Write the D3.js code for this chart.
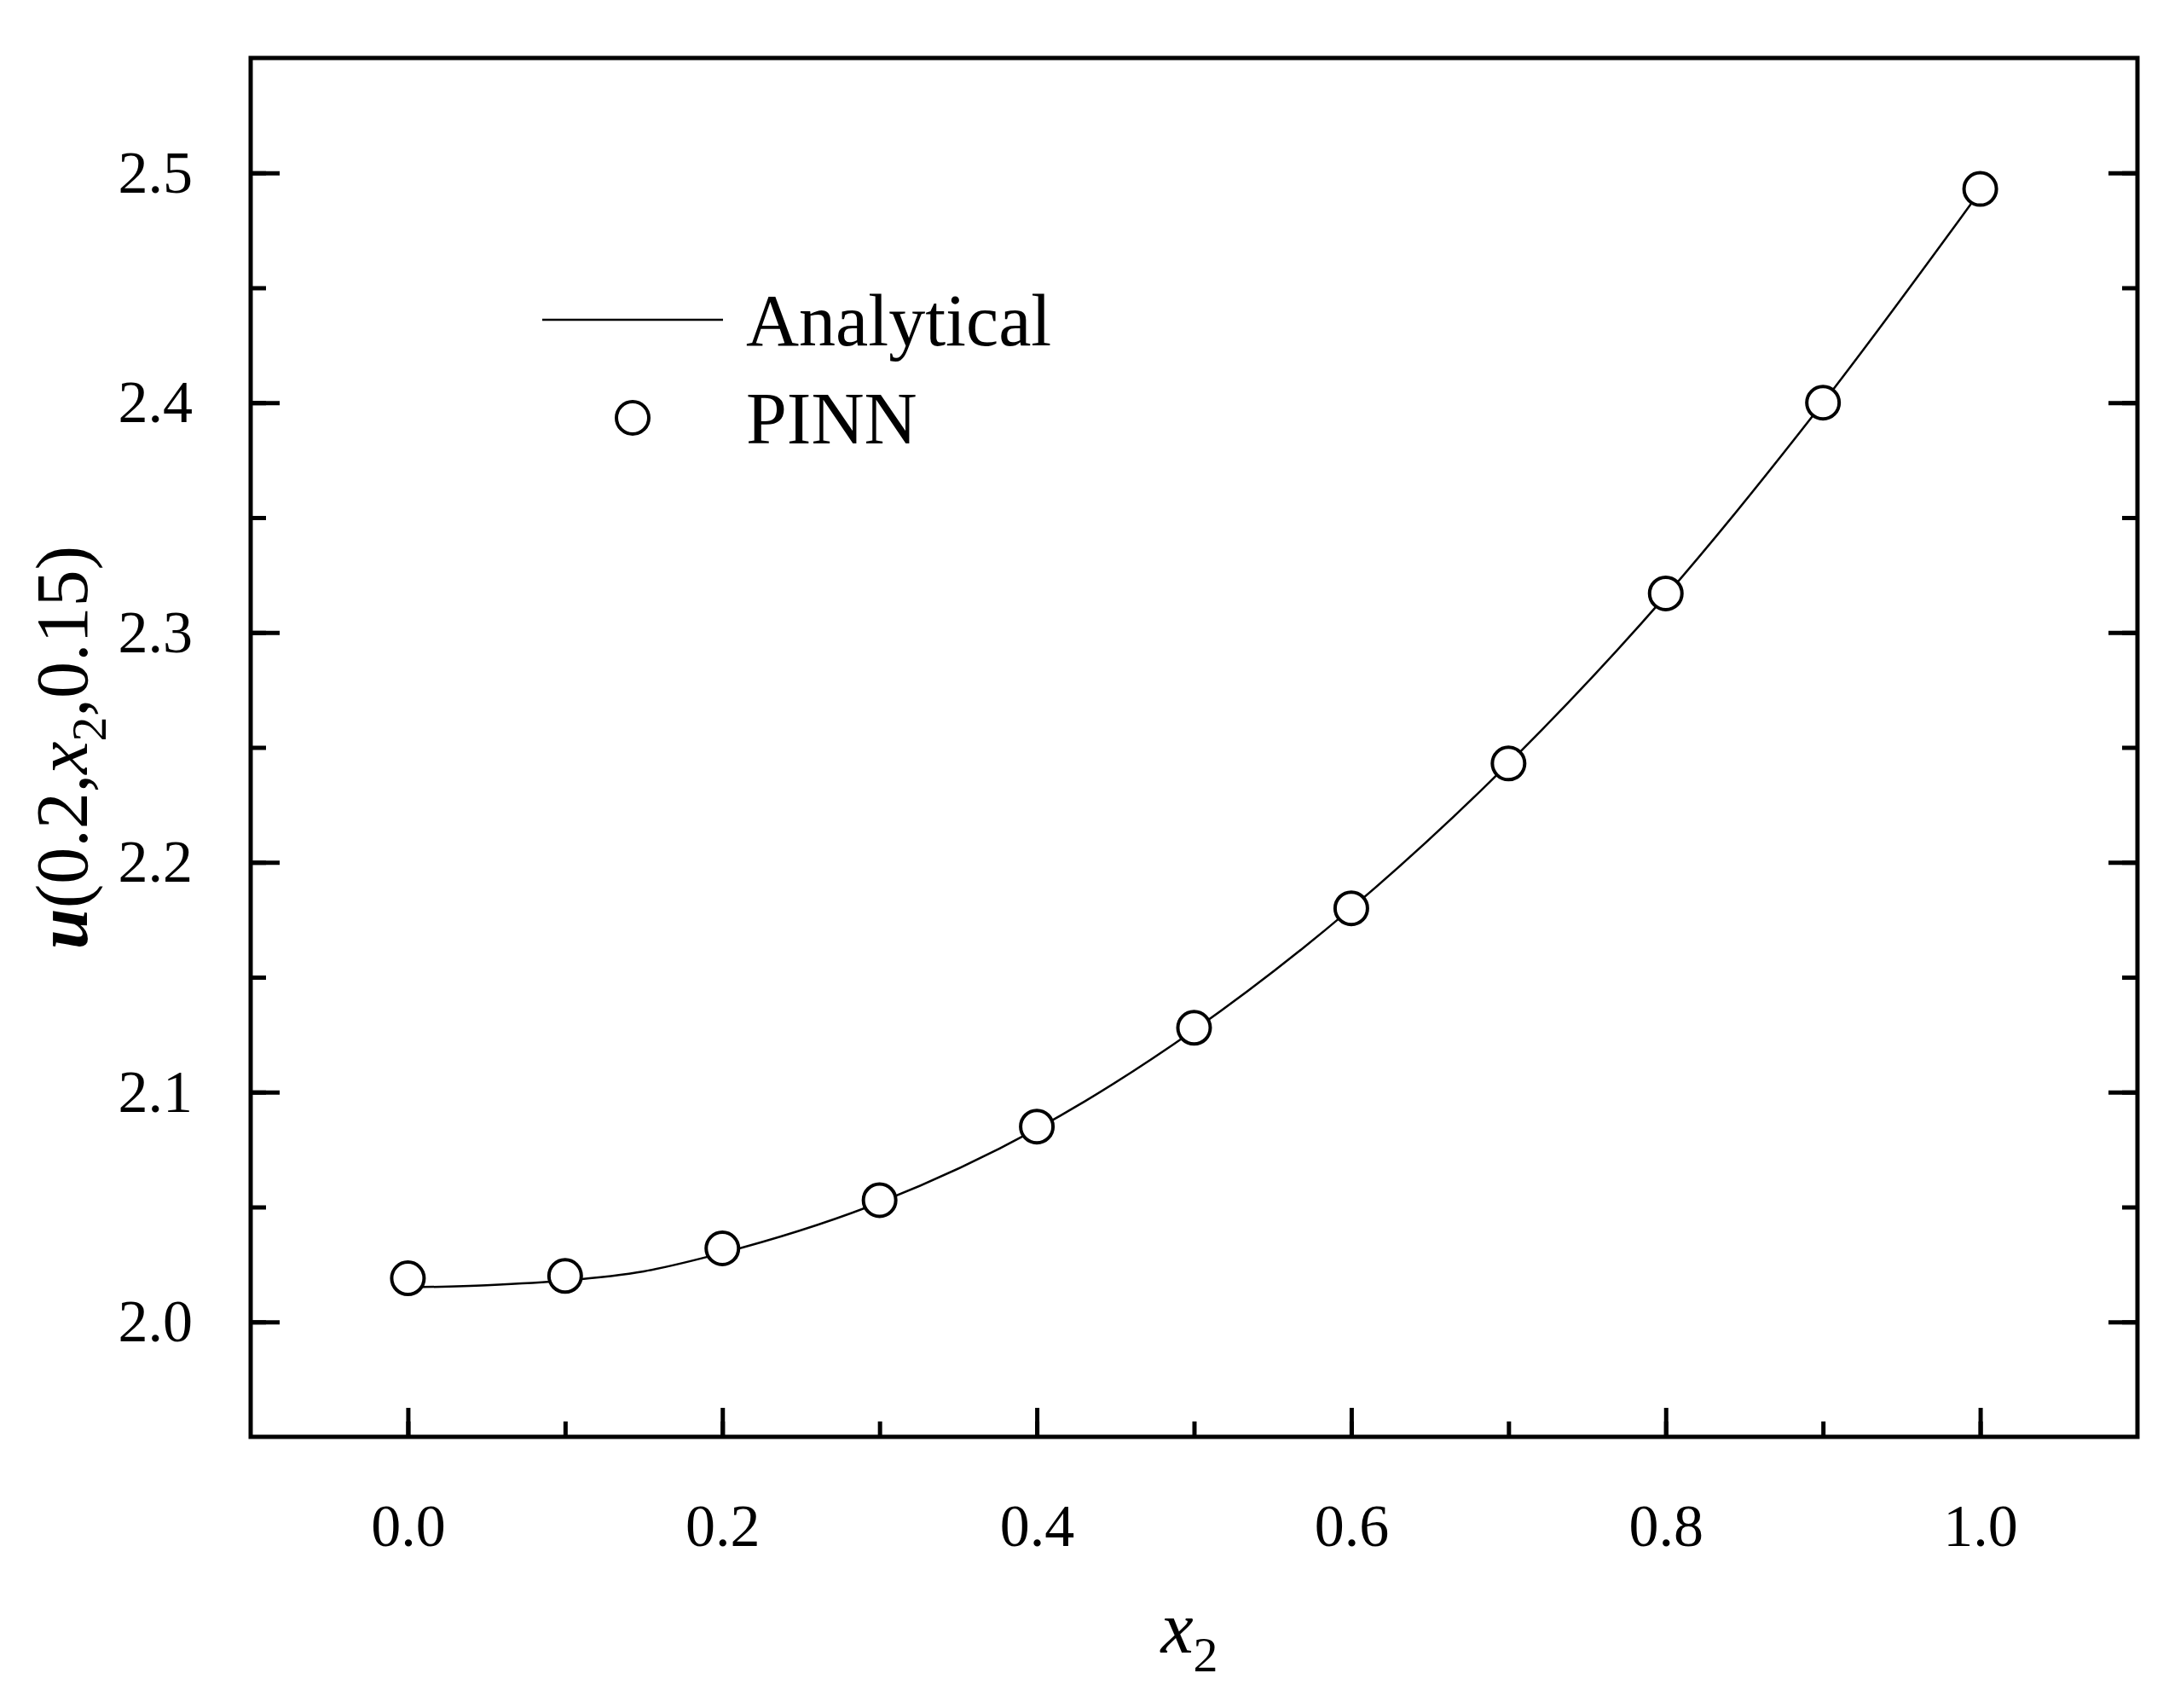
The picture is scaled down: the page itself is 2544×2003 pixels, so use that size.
<script src="https://d3js.org/d3.v7.min.js"></script>
<style>
  body { margin: 0; background: #fff; }
  text { font-family: "Liberation Serif", "Times New Roman", serif; fill: #000; }
</style>
<svg id="chart" width="2544" height="2003"></svg>
<script>
  const pinnX = [0.0, 0.1, 0.2, 0.3, 0.4, 0.5, 0.6, 0.7, 0.8, 0.9, 1.0];
  const pinnY = [2.019, 2.020, 2.032, 2.053, 2.085, 2.128, 2.180, 2.243, 2.317, 2.400, 2.493];
  const exactX = [0.0, 0.05, 0.1, 0.15, 0.2, 0.3, 0.4, 0.5, 0.6, 0.7, 0.8, 0.9, 1.0];
  const exactY = [2.015, 2.016, 2.018, 2.022, 2.030, 2.052, 2.084, 2.127, 2.180, 2.243, 2.316, 2.400, 2.492];
  const xTicks = [0.0, 0.2, 0.4, 0.6, 0.8, 1.0];
  const yTicks = [2.0, 2.1, 2.2, 2.3, 2.4, 2.5];

  const pLeft = 294, pRight = 2507, pTop = 68, pBottom = 1685;
  const svg = d3.select("#chart");

  const x = d3.scaleLinear().domain([-0.1, 1.1]).range([pLeft, pRight]);
  const y = d3.scaleLinear().domain([1.95, 2.55]).range([pBottom, pTop]);

  // minor ticks
  const xMinor = d3.range(-0.1, 1.1001, 0.1).map(v => +v.toFixed(2)).filter(v => v > -0.1 && v < 1.1);
  const yMinor = d3.range(1.95, 2.5501, 0.05).map(v => +v.toFixed(2)).filter(v => v > 1.95 && v < 2.55);

  const fmt = d3.format(".1f");
  const g = svg.append("g");

  g.append("g").attr("transform", `translate(0,${pBottom})`)
    .call(d3.axisBottom(x).tickValues(xMinor).tickSize(-18).tickFormat(""));
  g.append("g").attr("transform", `translate(0,${pBottom})`)
    .call(d3.axisBottom(x).tickValues(xTicks).tickSize(-34).tickPadding(78).tickFormat(fmt));
  g.append("g").attr("transform", `translate(${pLeft},0)`)
    .call(d3.axisLeft(y).tickValues(yMinor).tickSize(-18).tickFormat(""));
  g.append("g").attr("transform", `translate(${pLeft},0)`)
    .call(d3.axisLeft(y).tickValues(yTicks).tickSize(-34).tickPadding(68).tickFormat(fmt));
  g.append("g").attr("transform", `translate(${pRight},0)`)
    .call(d3.axisRight(y).tickValues(yMinor).tickSize(-18).tickFormat(""));
  g.append("g").attr("transform", `translate(${pRight},0)`)
    .call(d3.axisRight(y).tickValues(yTicks).tickSize(-34).tickFormat(""));

  g.selectAll(".domain").remove();
  g.selectAll(".tick line").attr("stroke", "#000").attr("stroke-width", 5);
  g.selectAll(".tick text").style("font-size", "70px").attr("font-family", "Liberation Serif");

  svg.append("rect").attr("x", pLeft).attr("y", pTop)
    .attr("width", pRight - pLeft).attr("height", pBottom - pTop)
    .attr("fill", "none").attr("stroke", "#000").attr("stroke-width", 5);

  // analytical line
  const line = d3.line().x((d, i) => x(exactX[i])).y(d => y(d)).curve(d3.curveMonotoneX);
  svg.append("path").datum(exactY).attr("d", line)
    .attr("fill", "none").attr("stroke", "#000").attr("stroke-width", 2.5);

  // PINN points
  svg.selectAll(".pt").data(pinnY).enter().append("circle")
    .attr("cx", (d, i) => x(pinnX[i])).attr("cy", d => y(d)).attr("r", 19)
    .attr("fill", "#fff").attr("stroke", "#000").attr("stroke-width", 4);

  // legend
  svg.append("line").attr("x1", 636).attr("x2", 848).attr("y1", 375).attr("y2", 375)
    .attr("stroke", "#000").attr("stroke-width", 2.5);
  svg.append("text").attr("x", 875).attr("y", 375).attr("dy", "0.35em")
    .style("font-size", "86px").text("Analytical");
  svg.append("circle").attr("cx", 742).attr("cy", 490).attr("r", 19)
    .attr("fill", "#fff").attr("stroke", "#000").attr("stroke-width", 4);
  svg.append("text").attr("x", 875).attr("y", 490).attr("dy", "0.35em")
    .style("font-size", "86px").text("PINN");

  // axis labels
  const xl = svg.append("text").attr("x", 1395).attr("y", 1938).attr("text-anchor", "middle")
    .style("font-size", "86px");
  xl.append("tspan").style("font-style", "italic").text("x");
  xl.append("tspan").attr("dy", 22).style("font-size", "58px").text("2");

  const yl = svg.append("text").attr("transform", `translate(102,${(pTop + pBottom) / 2}) rotate(-90)`)
    .attr("text-anchor", "middle").style("font-size", "86px").style("font-weight", "bold");
  yl.append("tspan").style("font-style", "italic").text("u");
  yl.append("tspan").style("font-weight", "normal").text("(0.2,");
  yl.append("tspan").style("font-style", "italic").style("font-weight", "normal").text("x");
  yl.append("tspan").attr("dy", 22).style("font-size", "58px").style("font-weight", "normal").text("2");
  yl.append("tspan").attr("dy", -22).style("font-weight", "normal").text(",0.15)");
</script>
